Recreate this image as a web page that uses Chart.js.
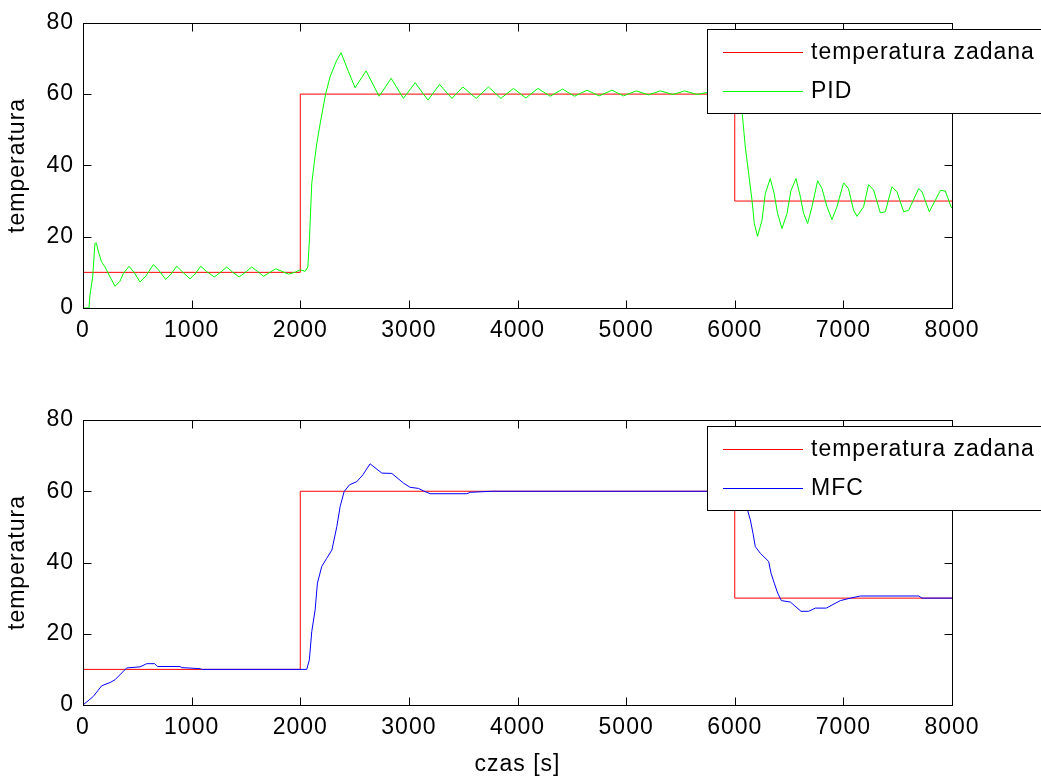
<!DOCTYPE html>
<html lang="pl">
<head>
<meta charset="utf-8" />
<title>PID / MFC</title>
<style>
  html, body { margin: 0; padding: 0; background: #fff; }
  #wrap { position: relative; width: 1041px; height: 776px; }
  canvas { position: absolute; left: 0; }
</style>
</head>
<body>
<div id="wrap">
  <canvas id="gorny" width="1041" height="386" style="top:0"></canvas>
  <canvas id="dolny" width="1041" height="390" style="top:386px"></canvas>
</div>

<script src="https://cdn.jsdelivr.net/npm/chart.js@4.4.1/dist/chart.umd.min.js"></script>
<script>
// os x i y
const osX = [0, 1000, 2000, 3000, 4000, 5000, 6000, 7000, 8000];
const osY = [0, 20, 40, 60, 80];

// temperatura zadana (schodek)
const zadCzas = [0, 2000, 6000, 8000];
const zadTemp = [10, 60, 30, 30];

// PID
const pidCzas = [0, 55, 64, 89, 110, 123, 140, 170, 203, 249, 295, 340, 370, 424, 470, 525, 580, 648, 700, 761, 810, 863, 920, 985, 1030, 1084, 1140, 1209, 1265, 1323, 1380, 1437, 1495, 1553, 1610, 1661, 1720, 1775, 1830, 1891, 1950, 1999, 2045, 2070, 2085, 2106, 2130, 2152, 2189, 2235, 2275, 2336, 2376, 2444, 2505, 2606, 2726, 2837, 2950, 3058, 3175, 3282, 3396, 3497, 3620, 3733, 3847, 3963, 4077, 4188, 4301, 4414, 4525, 4639, 4752, 4869, 4976, 5093, 5206, 5314, 5431, 5538, 5652, 5770, 5880, 5990, 6030, 6066, 6097, 6128, 6159, 6180, 6210, 6251, 6281, 6327, 6363, 6394, 6435, 6481, 6518, 6564, 6604, 6634, 6671, 6711, 6763, 6803, 6849, 6895, 6941, 7002, 7047, 7094, 7125, 7186, 7232, 7278, 7340, 7386, 7447, 7493, 7555, 7601, 7693, 7724, 7791, 7846, 7893, 7939, 7991, 8000];
const pidTemp = [0, 0, 3.6, 8.7, 18.1, 18.2, 16, 13, 11.5, 8.7, 6.1, 7.5, 9.6, 11.7, 10, 7.3, 9, 12.2, 10.5, 8.0, 9.5, 11.7, 10, 8.2, 9.5, 11.7, 10.2, 8.7, 10, 11.5, 10, 8.7, 10, 11.5, 10.2, 8.9, 10, 11.0, 10.3, 9.5, 10, 10.7, 10.3, 11.5, 19.5, 34.9, 41, 46.1, 52.7, 60.2, 64.9, 69.5, 71.6, 66.3, 61.8, 66.5, 59.4, 64.4, 58.8, 63.2, 58.3, 62.7, 58.8, 62.0, 58.8, 62.0, 58.8, 61.6, 58.9, 61.6, 59.4, 61.4, 59.4, 61.1, 59.5, 61.1, 59.5, 60.9, 59.8, 60.9, 59.9, 60.9, 59.9, 60.6, 59.7, 60.4, 59.5, 55.5, 45.2, 37.7, 30.2, 23.7, 20.1, 24.6, 32.1, 36.3, 32.1, 26.5, 22.3, 26.5, 33.0, 36.3, 31.2, 26.5, 23.7, 28.4, 35.7, 33.5, 28.4, 24.8, 28.4, 35.1, 33.5, 27.4, 25.7, 28.4, 34.6, 33.1, 26.7, 27, 34.0, 32.6, 27, 27.4, 33.5, 32.6, 27, 30.2, 33.0, 32.8, 28.4, 28];

// MFC
const mfcCzas = [0, 95, 172, 249, 295, 402, 525, 587, 660, 685, 893, 909, 1078, 1093, 2060, 2084, 2106, 2137, 2158, 2198, 2244, 2291, 2337, 2367, 2404, 2453, 2521, 2576, 2643, 2751, 2843, 2950, 3012, 3088, 3134, 3196, 3534, 3565, 3764, 6040, 6080, 6113, 6143, 6168, 6189, 6235, 6312, 6334, 6364, 6395, 6429, 6512, 6610, 6680, 6742, 6843, 6972, 7064, 7156, 7693, 7724, 8000];
const mfcTemp = [0, 2.4, 5.4, 6.3, 7.1, 10.4, 10.7, 11.6, 11.6, 10.8, 10.8, 10.5, 10.2, 10.0, 10.0, 12.7, 20.6, 26.7, 34.2, 38.9, 41.2, 43.5, 50.1, 55.7, 59.9, 61.8, 62.7, 64.6, 67.7, 65.1, 65.0, 62.3, 61.1, 60.8, 60.1, 59.3, 59.3, 59.7, 60.0, 60, 58.5, 55.2, 52.0, 48.2, 44.5, 42.6, 40.3, 37.0, 34.2, 31.4, 29.3, 28.9, 26.3, 26.3, 27.2, 27.2, 29.3, 30.0, 30.6, 30.6, 30.0, 30];

const FONT = '"Liberation Sans", Arial, Helvetica, sans-serif';
Chart.defaults.font.family = FONT;
Chart.defaults.color = '#000';

function punkty(czas, temp) {
    return czas.map((t, i) => ({ x: t, y: temp[i] }));
}

// ramka, wewnetrzne kreski i legenda jak w matlabie
const ramka = {
    id: 'ramka',
    beforeDraw(chart) {
        chart.ctx.letterSpacing = '1px';
    },
    afterDraw(chart) {
        const ctx = chart.ctx;
        const a = chart.chartArea;
        const sx = chart.scales.x, sy = chart.scales.y;
        const L = Math.round(a.left) + 0.5, R = Math.round(a.right) + 0.5;
        const T = Math.round(a.top) + 0.5, B = Math.round(a.bottom) + 0.5;
        ctx.save();
        ctx.strokeStyle = '#000';
        ctx.lineWidth = 1;
        ctx.strokeRect(L, T, R - L, B - T);
        ctx.beginPath();
        sx.ticks.forEach(t => {
            const p = Math.round(sx.getPixelForValue(t.value)) + 0.5;
            ctx.moveTo(p, B); ctx.lineTo(p, B - 8);
            ctx.moveTo(p, T); ctx.lineTo(p, T + 8);
        });
        sy.ticks.forEach(t => {
            const p = Math.round(sy.getPixelForValue(t.value)) + 0.5;
            ctx.moveTo(L, p); ctx.lineTo(L + 8, p);
            ctx.moveTo(R, p); ctx.lineTo(R - 8, p);
        });
        ctx.stroke();

        // legenda
        const lx = 707.5, ly = Math.round(a.top) + 6.5;
        ctx.fillStyle = '#fff';
        ctx.fillRect(lx, ly, 400, 84);
        ctx.strokeRect(lx, ly, 400, 84);
        ctx.font = '23px ' + FONT;
        ctx.textBaseline = 'middle';
        ctx.textAlign = 'left';
        chart.data.datasets.forEach((ds, i) => {
            const yy = Math.round(ly + 22 + i * 39) + 0.5;
            ctx.strokeStyle = ds.borderColor;
            ctx.beginPath();
            ctx.moveTo(723, yy); ctx.lineTo(803, yy);
            ctx.stroke();
            ctx.fillStyle = '#000';
            ctx.fillText(ds.label, 811, yy);
        });
        ctx.restore();
    }
};

function skale(tytulX, wysX) {
    return {
        x: {
            type: 'linear', min: 0, max: 8000,
            afterBuildTicks: s => { s.ticks = osX.map(v => ({ value: v })); },
            ticks: { color: '#000', font: { size: 23 }, padding: 9, maxRotation: 0, autoSkip: false, callback: v => String(v) },
            grid: { display: false, drawTicks: false },
            border: { display: false },
            title: { display: !!tytulX, text: tytulX || '', color: '#000', font: { size: 23, lineHeight: 1 }, padding: 0 },
            afterFit: s => { s.height = wysX; }
        },
        y: {
            min: 0, max: 80,
            afterBuildTicks: s => { s.ticks = osY.map(v => ({ value: v })); },
            ticks: { color: '#000', font: { size: 23 }, padding: 9, callback: v => String(v) },
            grid: { display: false, drawTicks: false },
            border: { display: false },
            title: { display: true, text: 'temperatura', color: '#000', font: { size: 23, lineHeight: 1 }, padding: { top: 6, bottom: 0 } },
            afterFit: s => { s.width = 83; }
        }
    };
}

function wykres(id, nazwa, kolor, czas, temp, gora, wysX, tytulX) {
    return new Chart(document.getElementById(id), {
        type: 'line',
        data: {
            datasets: [
                {
                    label: 'temperatura zadana',
                    data: punkty(zadCzas, zadTemp),
                    borderColor: '#ff0000',
                    borderWidth: 1,
                    stepped: 'before',
                    pointRadius: 0,
                    order: 1
                },
                {
                    label: nazwa,
                    data: punkty(czas, temp),
                    borderColor: kolor,
                    borderWidth: 1,
                    pointRadius: 0,
                    tension: 0,
                    order: 0
                }
            ]
        },
        options: {
            responsive: false,
            animation: false,
            layout: { padding: { top: gora, right: 89, left: 0, bottom: 0 } },
            plugins: { legend: { display: false }, tooltip: { enabled: false } },
            scales: skale(tytulX, wysX)
        },
        plugins: [ramka]
    });
}

wykres('gorny', 'PID', '#00ff00', pidCzas, pidTemp, 22, 78, null);
wykres('dolny', 'MFC', '#0000ff', mfcCzas, mfcTemp, 34, 71, 'czas [s]');
</script>
</body>
</html>
